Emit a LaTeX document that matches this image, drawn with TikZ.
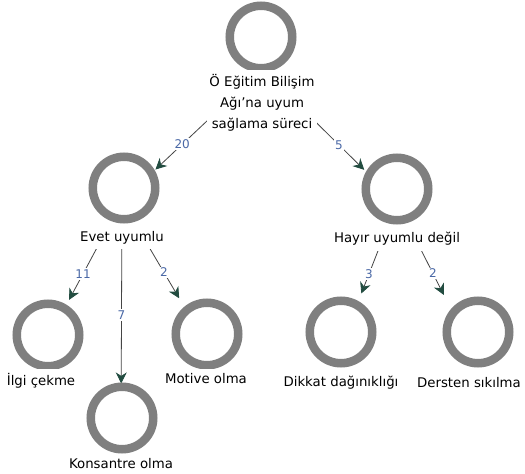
\documentclass[tikz,border=0pt]{standalone}
\usepackage{fontspec}
\setmainfont{DejaVu Sans}
\usetikzlibrary{arrows.meta,backgrounds,fit,positioning}
\definecolor{halka}{HTML}{7F7F7F}
\definecolor{okucu}{HTML}{224C40}
\definecolor{cizgi}{HTML}{454545}
\definecolor{sayimavi}{HTML}{4A68A6}

\begin{document}
\begin{tikzpicture}[x=1pt,y=-1pt,
dugum/.style={draw=halka, shape=circle, line width=8.5pt, fill=white, minimum size=62.5pt, inner sep=0pt},
etiket/.style={fill=white, align=center, inner xsep=2pt, inner ysep=5pt, font=\fontsize{13.3}{21}\selectfont},
sayi/.style={fill=white, text=sayimavi, inner sep=1.5pt, font=\fontsize{12}{14}\selectfont},
kenar/.style={draw=cizgi, line width=0.8pt, -{Stealth[length=11pt,width=11pt,inset=3.5pt,color=okucu]}}]
\useasboundingbox (0,0) rectangle (525,474);
% circles
\node[dugum] (0V0) at (261,37) {};
\node[dugum] (1V0) at (124,188) {};
\node[dugum] (1V1) at (397,189) {};
\node[dugum] (2V0) at (48,335) {};
\node[dugum] (2V1) at (122,418) {};
\node[dugum] (2V2) at (207,334) {};
\node[dugum] (2V3) at (341,332) {};
\node[dugum] (2V4) at (478,332) {};
% texts
\node[etiket] (0L0) at (262,103) {Ö Eğitim Bilişim\\Ağı'na uyum\\sağlama süreci};
\node[etiket] (1L0) at (122,238) {Evet uyumlu};
\node[etiket] (1L1) at (397,239) {Hayır uyumlu değil};
\node[etiket] (2L0) at (41,381) {İlgi çekme};
\node[etiket] (2L1) at (121,464) {Konsantre olma};
\node[etiket] (2L2) at (206,379) {Motive olma};
\node[etiket] (2L3) at (341,383) {Dikkat dağınıklığı};
\node[etiket] (2L4) at (469,383) {Dersten sıkılma};
% circle + text together
\node[fit=(0V0)(0L0), inner sep=0pt] (0F0) {};
\node[fit=(1V0)(1L0), inner sep=0pt] (1F0) {};
\node[fit=(1V1)(1L1), inner sep=0pt] (1F1) {};
\node[fit=(2V0)(2L0), inner sep=0pt] (2F0) {};
\node[fit=(2V1)(2L1), inner sep=0pt] (2F1) {};
\node[fit=(2V2)(2L2), inner sep=0pt] (2F2) {};
\node[fit=(2V3)(2L3), inner sep=0pt] (2F3) {};
\node[fit=(2V4)(2L4), inner sep=0pt] (2F4) {};
\begin{scope}[on background layer]
\fill[white] (0,0) rectangle (525,474);
\draw[kenar, shorten >=46pt] (0F0.center) -- node[sayi, pos=0.57]{20} (1F0.center);
\draw[kenar, shorten >=46pt] (0F0.center) -- node[sayi, pos=0.57]{5} (1F1.center);
\draw[kenar, shorten <=34pt, shorten >=53pt] (1F0.center) -- node[sayi]{11} (2F0.center);
\draw[kenar, shorten <=34pt, shorten >=45pt] (1F0.center) -- node[sayi]{7} (2F1.center);
\draw[kenar, shorten <=34pt, shorten >=53pt] (1F0.center) -- node[sayi]{2} (2F2.center);
\draw[kenar, shorten <=34pt, shorten >=56pt] (1F1.center) -- node[sayi]{3} (2F3.center);
\draw[kenar, shorten <=34pt, shorten >=56pt] (1F1.center) -- node[sayi]{2} (2F4.center);
\end{scope}
\end{tikzpicture}
\end{document}
